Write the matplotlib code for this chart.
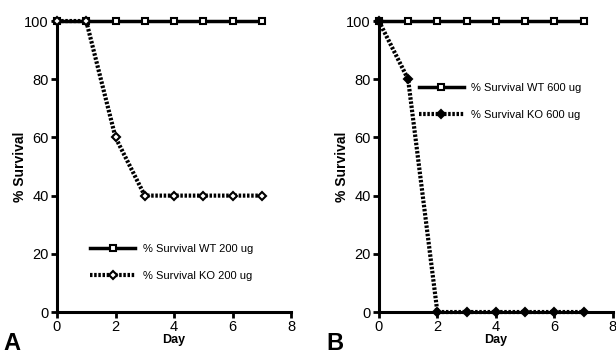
import matplotlib
matplotlib.use('Agg')
import matplotlib.pyplot as plt

plt.rcParams['font.family'] = ['Liberation Sans', 'DejaVu Sans']

days = [0, 1, 2, 3, 4, 5, 6, 7]
wt_200 = [100, 100, 100, 100, 100, 100, 100, 100]
ko_200 = [100, 100, 60, 40, 40, 40, 40, 40]
wt_600 = [100, 100, 100, 100, 100, 100, 100, 100]
ko_600 = [100, 80, 0, 0, 0, 0, 0, 0]

fig = plt.figure(figsize=(6.16, 3.54), dpi=100)
ax_a = fig.add_axes([0.0925, 0.1186, 0.380, 0.822])
ax_b = fig.add_axes([0.615, 0.1186, 0.380, 0.822])


def style_axes(ax):
    ax.set_xlim(0, 8)
    ax.set_ylim(0, 100)
    ax.set_xticks([0, 2, 4, 6, 8])
    ax.set_yticks([0, 20, 40, 60, 80, 100])
    for s in ['top', 'right']:
        ax.spines[s].set_visible(False)
    for s in ['left', 'bottom']:
        ax.spines[s].set_linewidth(2.2)
    ax.tick_params(direction='out', width=2, length=4, labelsize=10.5, pad=2)
    ax.set_xlabel('Day', fontsize=9, fontweight='bold', labelpad=0)
    ax.set_ylabel('% Survival', fontsize=10, fontweight='bold', labelpad=-2)


# Panel A
ax_a.plot(days, wt_200, color='black', lw=2.5, marker='s', ms=4.5, mfc='white',
          mec='black', mew=1.5, clip_on=False, label='% Survival WT 200 ug', zorder=3)
ax_a.plot(days, ko_200, color='black', lw=3, ls=(0, (0.6, 0.4)), marker='D', ms=4.5,
          mfc='white', mec='black', mew=1.5, clip_on=False,
          label='% Survival KO 200 ug', zorder=4)
style_axes(ax_a)
ax_a.legend(loc='upper left', bbox_to_anchor=(0.1, 0.268), frameon=False, fontsize=8,
            handlelength=4, handletextpad=0.7, labelspacing=1.5)

# Panel B
ax_b.plot(days, wt_600, color='black', lw=2.5, marker='s', ms=4.5, mfc='white',
          mec='black', mew=1.5, clip_on=False, label='% Survival WT 600 ug', zorder=3)
ax_b.plot(days, ko_600, color='black', lw=3, ls=(0, (0.6, 0.4)), marker='D', ms=4.5,
          mfc='black', mec='black', mew=1.5, clip_on=False,
          label='% Survival KO 600 ug', zorder=4)
style_axes(ax_b)
ax_b.legend(loc='upper left', bbox_to_anchor=(0.13, 0.821), frameon=False, fontsize=8,
            handlelength=4, handletextpad=0.7, labelspacing=1.5)

fig.text(0.005, 0.01, 'A', fontsize=17, fontweight='bold')
fig.text(0.53, 0.01, 'B', fontsize=17, fontweight='bold')

fig.savefig('out.png', dpi=100)
